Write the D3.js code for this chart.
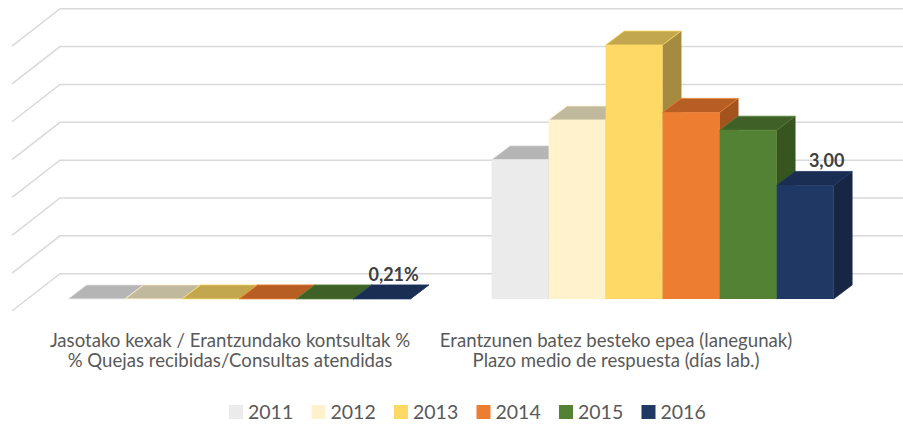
<!DOCTYPE html>
<html>
<head>
<meta charset="utf-8">
<script src="https://cdn.jsdelivr.net/npm/d3@7"></script>
<style>
  html, body { margin: 0; padding: 0; background: #ffffff; }
  svg { display: block; }
</style>
</head>
<body>
<svg id="chart" width="903" height="425"></svg>
<script>
// ---------- data ----------
const categoryLine1 = ["Jasotako kexak / Erantzundako kontsultak %", "Erantzunen batez besteko epea (lanegunak)"];
const categoryLine2 = ["% Quejas recibidas/Consultas atendidas", "Plazo medio de respuesta (días lab.)"];
const years = ["2011", "2012", "2013", "2014", "2015", "2016"];
const values2011 = [0.0030, 3.68];
const values2012 = [0.0028, 4.73];
const values2013 = [0.0027, 6.71];
const values2014 = [0.0025, 4.93];
const values2015 = [0.0023, 4.46];
const values2016 = [0.0021, 3.00];
const dataLabels2016 = ["0,21%", "3,00"];
const yTicks = [0, 1, 2, 3, 4, 5, 6, 7];

const frontColors = ["#EBEBEB", "#FFF2CC", "#FFD966", "#ED7D31", "#548235", "#203864"];
const topColors   = ["#B5B5B5", "#C1B99E", "#C3A74E", "#B65E23", "#3F6128", "#1A2D52"];
const sideColors  = ["#A9A9A9", "#B3AC92", "#A48B3F", "#A3541E", "#37561F", "#172645"];

const seriesValues = [values2011, values2012, values2013, values2014, values2015, values2016];

// ---------- geometry ----------
const svg = d3.select("#chart");
const categories = categoryLine1;

const barDX = 18.5, barDY = 14;       // bar depth projection
const frontDX = 15.4, frontDY = 12;   // floor front -> bar front
const backDX = 14.1, backDY = 11.3;   // bar back -> back wall

const x0 = d3.scaleBand().domain(categories).range([27.4, 874.4]).padding(0);
const x1 = d3.scaleBand().domain(years).range([0, x0.bandwidth()]).paddingInner(0).paddingOuter(0.714);
const y = d3.scaleLinear().domain([0, 7]).range([299, 299 - 7 * 37.85]);

const wallDX = barDX + backDX, wallDY = barDY + backDY;
const floorDX = frontDX + wallDX, floorDY = frontDY + wallDY;
const wallLeft = x0.range()[0] - frontDX + floorDX;

// ---------- gridlines (back wall + left wall) ----------
const gGrid = svg.append("g");
yTicks.forEach(t => {
  const yb = y(t) - wallDY;
  gGrid.append("polyline")
    .attr("points", `${wallLeft - floorDX},${yb + floorDY} ${wallLeft},${yb} 903,${yb}`)
    .attr("fill", "none")
    .attr("stroke", "#D9D9D9")
    .attr("stroke-width", 1.5);
});

// ---------- bars ----------
const gBars = svg.append("g");
categories.forEach((cat, ci) => {
  years.forEach((yr, si) => {
    const v = seriesValues[si][ci];
    const xl = x0(cat) + x1(yr);
    const xr = xl + x1.bandwidth();
    const yt = y(v), yb = y(0);
    const g = gBars.append("g");
    // side face
    g.append("polygon")
      .attr("points", `${xr},${yt} ${xr + barDX},${yt - barDY} ${xr + barDX},${yb - barDY} ${xr},${yb}`)
      .attr("fill", sideColors[si]).attr("stroke", sideColors[si]).attr("stroke-width", 0.6);
    // top face
    g.append("polygon")
      .attr("points", `${xl},${yt} ${xr},${yt} ${xr + barDX},${yt - barDY} ${xl + barDX},${yt - barDY}`)
      .attr("fill", topColors[si]).attr("stroke", frontColors[si]).attr("stroke-width", 0.8);
    // front face
    if (yb - yt > 0.5) {
      g.append("rect")
        .attr("x", xl).attr("y", yt).attr("width", xr - xl).attr("height", yb - yt)
        .attr("fill", frontColors[si]);
    }
  });
});

// ---------- data labels (2016) ----------
const labelShift = [12, 21.5];
categories.forEach((cat, ci) => {
  const xc = x0(cat) + x1("2016") + x1.bandwidth() / 2 + labelShift[ci];
  svg.append("text")
    .attr("x", xc)
    .attr("y", y(values2016[ci]) - barDY - 4)
    .attr("text-anchor", "middle")
    .attr("font-family", "Lato, 'Open Sans', sans-serif")
    .attr("font-weight", "bold")
    .attr("font-size", 18)
    .attr("fill", "#404040")
    .text(dataLabels2016[ci]);
});

// ---------- category labels ----------
const xLabel = d3.scalePoint().domain(categories).range([230, 616]);
const gCat = svg.append("g")
  .attr("font-family", "Lato, 'Open Sans', sans-serif")
  .attr("font-size", 18.6)
  .attr("fill", "#595959")
  .attr("text-anchor", "middle");
categories.forEach((cat, ci) => {
  gCat.append("text").attr("x", xLabel(cat)).attr("y", 346.5).text(categoryLine1[ci]);
  gCat.append("text").attr("x", xLabel(cat)).attr("y", 367).text(categoryLine2[ci]);
});

// ---------- legend ----------
const legendX = d3.scalePoint().domain(years).range([229, 229 + 5 * 82.5]);
const gLeg = svg.append("g");
years.forEach((yr, si) => {
  gLeg.append("rect")
    .attr("x", legendX(yr)).attr("y", 405)
    .attr("width", 14).attr("height", 14)
    .attr("fill", frontColors[si]);
  gLeg.append("text")
    .attr("x", legendX(yr) + 19).attr("y", 419.3)
    .attr("font-family", "Lato, 'Open Sans', sans-serif")
    .attr("font-size", 19.5)
    .attr("fill", "#595959")
    .text(yr);
});
</script>
</body>
</html>
